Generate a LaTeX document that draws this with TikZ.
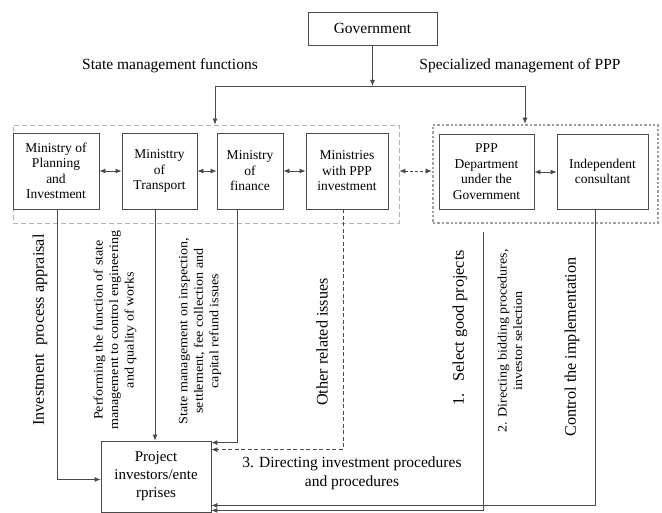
\documentclass[tikz,border=0pt]{standalone}
\usepackage{fontspec}
\setmainfont{Liberation Serif}
\newfontfamily\widefont[FakeStretch=1.1]{Liberation Serif}
\usetikzlibrary{arrows.meta}
\definecolor{ln}{HTML}{4A4A4A}
\begin{document}
\begin{tikzpicture}[x=1pt,y=-1pt,
  arr/.style={draw=ln,line width=0.8pt,-{Latex[length=6pt,width=5pt]}},
  darr/.style={draw=ln,line width=0.8pt,{Latex[length=6pt,width=5pt]}-{Latex[length=6pt,width=5pt]}},
  ln/.style={draw=ln,line width=0.8pt},
  box/.style={draw=ln,line width=0.8pt,align=center,inner sep=1pt,font=\fontsize{13.5}{15.5}\selectfont},
  big/.style={font=\fontsize{15.5}{17}\selectfont,inner sep=0pt,align=center},
  rbig/.style={font=\fontsize{16.2}{17}\selectfont,inner sep=0pt,align=center},
  small/.style={font=\widefont\fontsize{12.8}{15.5}\selectfont,inner sep=0pt,align=center},
  dgrp/.style={draw=gray!60,line width=0.8pt,dash pattern=on 5pt off 3pt,inner sep=0pt},
  tgrp/.style={draw=gray!75,line width=2.6pt,dash pattern=on 2.4pt off 2pt,inner sep=0pt},
]
\useasboundingbox (0,0) rectangle (662,513);
% group frames
\node[dgrp,minimum width=386pt,minimum height=98pt] (sgrp) at (206,174) {};
\node[tgrp,minimum width=225pt,minimum height=98pt] (pgrp) at (545.5,174) {};
% top
\node[box,minimum width=129pt,minimum height=33pt,font=\fontsize{15.5}{17}\selectfont] (gov) at (372.5,28.5) {Government};
\coordinate (j) at (372.5,86);
\coordinate (jl) at (215,86);
\coordinate (jr) at (525,86);
\draw[arr] (gov.south) -- (j);
\draw[ln] (jl) -- (jr);
\draw[arr] (jl) -- (jl |- sgrp.north);
\draw[arr] (jr) -- (jr |- pgrp.north);
\node[big] (lsm) at (170,66) {State management functions};
\node[big] (lsp) at (520,66) {Specialized management of PPP};
% ministries
\node[box,minimum width=86pt,minimum height=76pt,fill=white] (plan) at (56,171) {Ministry of\\Planning\\and\\Investment};
\node[box,minimum width=75pt,minimum height=76pt] (trans) at (159.5,171) {Ministtry\\of\\Transport};
\node[box,minimum width=66pt,minimum height=76pt] (fin) at (250,171) {Ministry\\of\\finance};
\node[box,minimum width=82pt,minimum height=76pt] (mppp) at (347,171) {Ministries\\with PPP\\investment};
\node[box,minimum width=95pt,minimum height=75pt] (dept) at (486.5,171.5) {PPP\\Department\\under the\\Government};
\node[box,minimum width=91pt,minimum height=75pt] (ind) at (602.5,171.5) {Independent\\consultant};
\draw[darr] (plan.east) -- (trans.west);
\draw[darr] (trans.east) -- (fin.west);
\draw[darr] (fin.east) -- (mppp.west);
\draw[darr] (dept.east |- 0,172) -- (ind.west |- 0,172);
\draw[darr,dash pattern=on 3pt off 2pt] (sgrp.east |- 0,171) -- (pgrp.west |- 0,171);
% project
\node[box,minimum width=110pt,minimum height=71pt,font=\fontsize{15}{18}\selectfont] (proj) at (156,476.5) {Project\\investors/ente\\rprises};
% connectors
\draw[arr] (plan.south -| 57,0) |- ([yshift=-3pt]proj.west);
\draw[arr] (trans.south -| 155,0) -- (proj.north -| 155,0);
\draw[arr] (fin.south -| 237,0) |- ([yshift=-2pt]proj.north east);
\draw[arr,dash pattern=on 4pt off 2.5pt] (mppp.south -| 343,0) |- ([yshift=-9pt]proj.north east);
\coordinate (sgp) at (483,232);
\draw[arr] (sgp) |- ([yshift=2pt]proj.south east);
\draw[arr] (ind.south -| 595,0) |- ([yshift=7pt]proj.south east);
% labels
\node[rbig,rotate=90] (l1) at (40,330) {Investment\ \ process appraisal};
\node[small,rotate=90] (l2) at (115,330) {Performing the function of state\\management to control engineering\\and quality of works};
\node[small,rotate=90] (l3) at (200,331) {State management on inspection,\\settlement, fee collection and\\capital refund issues};
\node[rbig,rotate=90] (l4) at (322,342) {Other related issues};
\node[rbig,rotate=90] (l5) at (460,328) {1.\ \ \ Select good projects};
\node[small,rotate=90] (l6) at (510,341) {2. Directing bidding procedures,\\investor selection};
\node[rbig,rotate=90] (l7) at (572,347) {Control the implementation};
\node[big,font=\fontsize{15.5}{19}\selectfont] (l8) at (352,473) {3. Directing investment procedures\\and procedures};
\end{tikzpicture}
\end{document}
